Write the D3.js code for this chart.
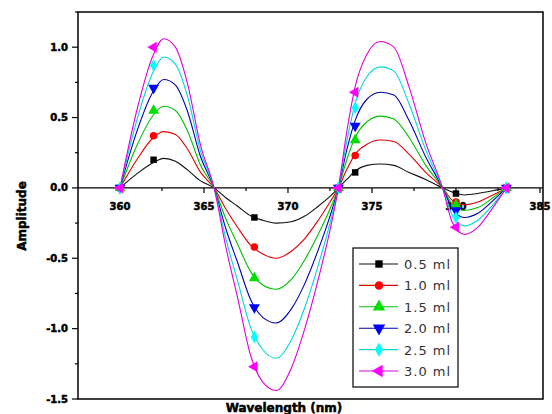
<!DOCTYPE html>
<html>
<head>
<meta charset="utf-8">
<script src="https://cdn.jsdelivr.net/npm/d3@7/dist/d3.min.js"></script>
<style>
  body { margin: 0; background: #fff; }
  svg { display: block; }
  .tick-lbl { font-family: "DejaVu Sans", sans-serif; font-weight: bold; font-size: 10px; fill: #000; stroke: #000; stroke-width: 0.5px; }
  .axis-title { font-family: "DejaVu Sans", sans-serif; font-weight: bold; font-size: 12px; fill: #000; stroke: #000; stroke-width: 0.5px; }
  .legend-lbl { font-family: "DejaVu Sans", sans-serif; font-size: 13px; letter-spacing: 1px; fill: #333; }
</style>
</head>
<body>
<div id="chart"></div>
<script>
// wavelengths (nm) for the traced curves
const wavelengths = [360, 361, 362, 362.6, 363.3, 364, 364.8, 365.6, 366.3, 367, 367.8, 368.5, 369.3, 370.2, 371, 371.8, 372.5, 373, 373.5, 374, 374.7, 375.5, 376.3, 377.2, 378.2, 379.2, 379.8, 380.5, 381.3, 382.2, 383];

const curve05 = [0, 0.1, 0.18, 0.21, 0.19, 0.13, 0.05, 0, -0.07, -0.13, -0.2, -0.23, -0.25, -0.24, -0.2, -0.13, -0.06, 0, 0.06, 0.12, 0.16, 0.17, 0.16, 0.11, 0.06, 0, -0.03, -0.05, -0.04, -0.02, 0];
const curve10 = [0, 0.2, 0.36, 0.4, 0.38, 0.28, 0.11, 0, -0.15, -0.28, -0.41, -0.47, -0.5, -0.45, -0.36, -0.23, -0.1, 0, 0.13, 0.24, 0.31, 0.34, 0.33, 0.24, 0.11, 0, -0.09, -0.12, -0.1, -0.05, 0];
const curve15 = [0, 0.3, 0.52, 0.58, 0.55, 0.41, 0.16, 0, -0.22, -0.4, -0.6, -0.69, -0.72, -0.65, -0.51, -0.33, -0.15, 0, 0.2, 0.36, 0.47, 0.51, 0.49, 0.36, 0.16, 0, -0.12, -0.16, -0.14, -0.07, 0];
const curve20 = [0, 0.4, 0.69, 0.77, 0.73, 0.55, 0.22, 0, -0.29, -0.53, -0.8, -0.92, -0.96, -0.86, -0.68, -0.44, -0.2, 0, 0.27, 0.48, 0.63, 0.68, 0.66, 0.48, 0.22, 0, -0.15, -0.21, -0.18, -0.09, 0];
const curve25 = [0, 0.48, 0.83, 0.93, 0.88, 0.66, 0.26, 0, -0.36, -0.66, -1.0, -1.15, -1.21, -1.08, -0.85, -0.55, -0.25, 0, 0.33, 0.6, 0.79, 0.86, 0.83, 0.6, 0.27, 0, -0.2, -0.27, -0.23, -0.12, 0];
const curve30 = [0, 0.55, 0.95, 1.06, 1.0, 0.75, 0.3, 0, -0.42, -0.78, -1.2, -1.38, -1.44, -1.28, -1.0, -0.65, -0.3, 0, 0.4, 0.72, 0.95, 1.04, 1.0, 0.72, 0.32, 0, -0.25, -0.33, -0.28, -0.14, 0];

// symbol positions
const markerWl = [360, 362, 368, 373, 374, 380, 383];
const marker05 = [0, 0.2, -0.21, 0, 0.11, -0.04, 0];
const marker10 = [0, 0.37, -0.42, 0, 0.23, -0.1, 0];
const marker15 = [0, 0.55, -0.64, 0, 0.34, -0.12, 0];
const marker20 = [0, 0.71, -0.85, 0, 0.44, -0.16, 0];
const marker25 = [0, 0.87, -1.06, 0, 0.57, -0.21, 0];
const marker30 = [0, 1.0, -1.27, 0, 0.68, -0.28, 0];

const seriesNames = ["0.5 ml", "1.0 ml", "1.5 ml", "2.0 ml", "2.5 ml", "3.0 ml"];
const xTicks = [360, 365, 370, 375, 380, 385];
const yTicks = [1.0, 0.5, 0.0, -0.5, -1.0, -1.5];

const colors = ["#000000", "#ff0000", "#00e000", "#0000ff", "#00ffff", "#ff00ff"];
const lineColors = ["#111111", "#e00000", "#00c000", "#0000b0", "#00d8d8", "#e000e0"];
const symbols = [d3.symbolSquare, d3.symbolCircle, d3.symbolTriangle, d3.symbolTriangle, d3.symbolDiamond, d3.symbolTriangle];
const rotations = [0, 0, 0, 180, 0, -90];
const symSizes = [42, 44, 52, 52, 46, 52];

const curves = [curve05, curve10, curve15, curve20, curve25, curve30];
const markers = [marker05, marker10, marker15, marker20, marker25, marker30];

const W = 552, H = 414;
const plot = { left: 78, right: 543, top: 12, bottom: 399 };

const svg = d3.select("#chart").append("svg")
  .attr("width", W).attr("height", H);

const x = d3.scaleLinear().domain([357.5, 385.18]).range([plot.left, plot.right]);
const y = d3.scaleLinear().domain([-1.5, 1.25]).range([plot.bottom, plot.top]);

// frame
svg.append("rect")
  .attr("x", plot.left).attr("y", plot.top)
  .attr("width", plot.right - plot.left).attr("height", plot.bottom - plot.top)
  .attr("fill", "none").attr("stroke", "#000").attr("stroke-width", 1.5);

// y axis ticks
const yMinor = d3.range(-1.5, 1.26, 0.25);
svg.selectAll(".ytick").data(yMinor).join("line")
  .attr("x1", d => Math.abs(d * 2 - Math.round(d * 2)) < 1e-6 ? plot.left - 6 : plot.left - 3)
  .attr("x2", plot.left)
  .attr("y1", d => y(d)).attr("y2", d => y(d))
  .attr("stroke", "#000").attr("stroke-width", 1.2);

svg.selectAll(".ylbl").data(yTicks).join("text")
  .attr("class", "tick-lbl")
  .attr("x", plot.left - 10)
  .attr("y", d => y(d) + 3.5)
  .attr("text-anchor", "end")
  .text(d => d3.format(".1f")(d).replace("−", "-"));

// x axis at zero
const y0 = y(0);
svg.append("line")
  .attr("x1", plot.left).attr("x2", plot.right)
  .attr("y1", y0).attr("y2", y0)
  .attr("stroke", "#000").attr("stroke-width", 1.3);

const xMinor = d3.range(360, 385.1, 2.5);
svg.selectAll(".xtick").data(xMinor).join("line")
  .attr("x1", d => x(d)).attr("x2", d => x(d))
  .attr("y1", y0)
  .attr("y2", d => d % 5 === 0 ? y0 + 5 : y0 + 3)
  .attr("stroke", "#000").attr("stroke-width", 1.2);

svg.selectAll(".xlbl").data(xTicks).join("text")
  .attr("class", "tick-lbl")
  .attr("x", d => x(d))
  .attr("y", y0 + 22)
  .attr("text-anchor", "middle")
  .text(d => d);

// axis titles
svg.append("text")
  .attr("class", "axis-title")
  .attr("transform", `translate(26,${216}) rotate(-90)`)
  .attr("text-anchor", "middle")
  .text("Amplitude");

svg.append("text")
  .attr("class", "axis-title")
  .attr("x", 284).attr("y", 412)
  .attr("text-anchor", "middle")
  .text("Wavelength (nm)");

// curves
const line = d3.line()
  .x(d => x(d[0]))
  .y(d => y(d[1]))
  .curve(d3.curveMonotoneX);

curves.forEach((vals, i) => {
  svg.append("path")
    .datum(wavelengths.map((w, j) => [w, vals[j]]))
    .attr("d", line)
    .attr("fill", "none")
    .attr("stroke", lineColors[i])
    .attr("stroke-width", 1.1);
});

// markers
markers.forEach((vals, i) => {
  const sym = d3.symbol().type(symbols[i]).size(symSizes[i]);
  svg.selectAll(".m" + i)
    .data(markerWl.map((w, j) => [w, vals[j]]))
    .join("path")
      .attr("d", sym)
      .attr("transform", d => `translate(${x(d[0])},${y(d[1])}) rotate(${rotations[i]})`)
      .attr("fill", colors[i]);
});

// legend
const legend = svg.append("g").attr("transform", "translate(353,248)");
legend.append("rect")
  .attr("width", 105).attr("height", 139)
  .attr("fill", "#fff").attr("stroke", "#000").attr("stroke-width", 1.2);

seriesNames.forEach((name, i) => {
  const ly = 16 + i * 21.4;
  legend.append("line")
    .attr("x1", 6).attr("x2", 45)
    .attr("y1", ly).attr("y2", ly)
    .attr("stroke", lineColors[i]).attr("stroke-width", 1.1);
  legend.append("path")
    .attr("d", d3.symbol().type(symbols[i]).size(symSizes[i] * 1.3))
    .attr("transform", `translate(26,${ly}) rotate(${rotations[i]})`)
    .attr("fill", colors[i]);
  legend.append("text")
    .attr("class", "legend-lbl")
    .attr("x", 51).attr("y", ly + 5)
    .text(name);
});
</script>
</body>
</html>
